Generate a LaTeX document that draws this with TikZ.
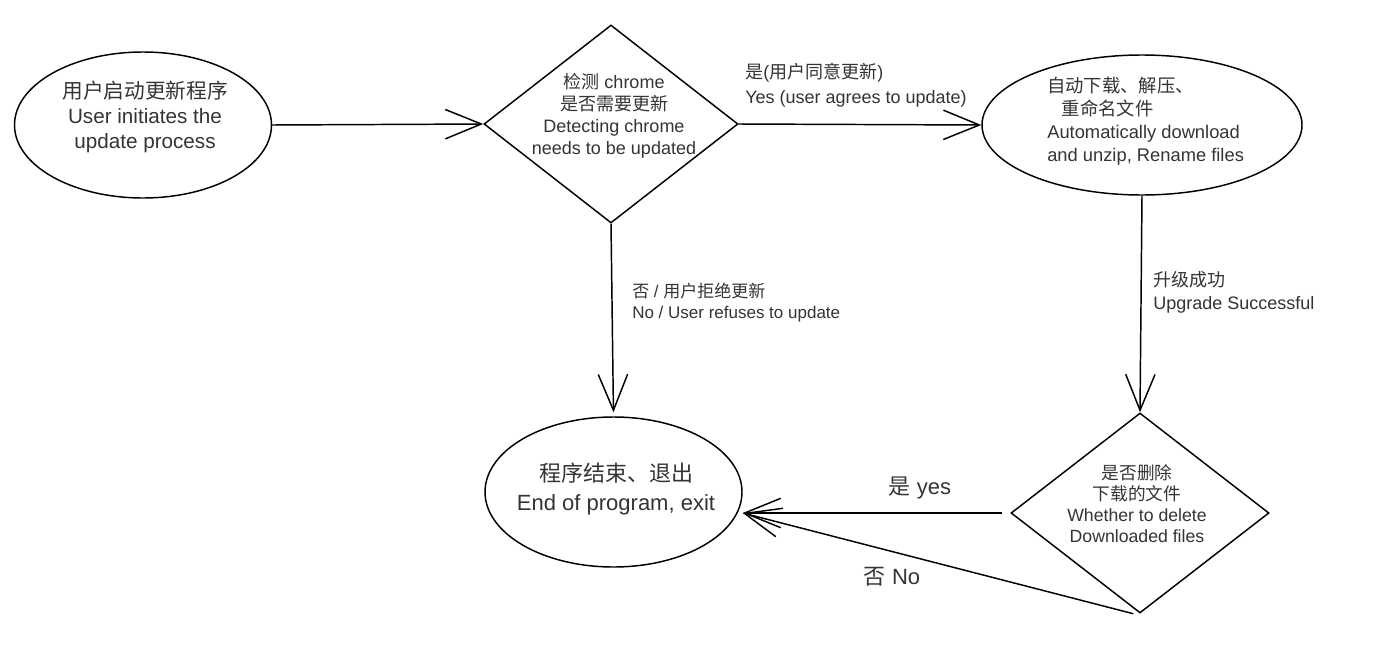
\documentclass[tikz,border=0pt]{standalone}
\usepackage{fontspec}
\setmainfont{Liberation Sans}
\newfontfamily\cjk{Noto Sans CJK SC}
\usetikzlibrary{shapes.geometric,arrows.meta,calc}
\definecolor{txt}{RGB}{52,52,52}
\begin{document}
\begin{tikzpicture}[x=0.75pt,y=-0.75pt,
  shapeline/.style={draw=black,line width=1.1pt,inner sep=0pt},
  oval/.style={shapeline,ellipse},
  decision/.style={shapeline,diamond},
  txtnode/.style={inner sep=0pt,text=txt,align=center},
  lbl/.style={inner sep=0pt,text=txt,align=left,anchor=west},
  arr/.style={draw=black,line width=1.1pt,-{Straight Barb[length=27pt,width=22pt,line width=1.1pt]}},
]
\useasboundingbox (0,0) rectangle (1378,646);
\fill[white] (0,0) rectangle (1378,646);

% shapes
\node[oval,minimum width=192.75pt,minimum height=109.5pt] (start) at (143,125) {};
\node[decision,minimum width=190.5pt,minimum height=148.5pt] (check) at (611,124) {};
\node[oval,minimum width=240pt,minimum height=105pt] (dl) at (1142,125) {};
\node[oval,minimum width=192.75pt,minimum height=112.5pt] (quit) at (613.5,492) {};
\node[decision,minimum width=193.5pt,minimum height=150pt] (del) at (1140,513) {};

% texts inside shapes
\node[txtnode,font=\fontsize{15.5}{18.5}\selectfont] (t1) at (145,117)
  {{\cjk 用户启动更新程序}\\User initiates the\\update process};
\node[txtnode,font=\fontsize{13.5}{16.5}\selectfont] (t2) at (614,116)
  {{\cjk 检测} chrome\\{\cjk 是否需要更新}\\Detecting chrome\\needs to be updated};
\node[lbl,font=\fontsize{13.75}{17.25}\selectfont] (t3) at (1047,121)
  {{\cjk 自动下载、解压、}\\\hspace*{11pt}{\cjk 重命名文件}\\Automatically download\\and unzip, Rename files};
\node[txtnode,font=\fontsize{16.5}{21.75}\selectfont] (t4) at (616,489)
  {{\cjk 程序结束、退出}\\End of program, exit};
\node[txtnode,font=\fontsize{13.25}{15.75}\selectfont] (t5) at (1137,504)
  {{\cjk 是否删除}\\{\cjk 下载的文件}\\Whether to delete\\Downloaded files};

% connectors
\coordinate (quitin) at (quit.east |- del.west);
\draw[arr] (start.east) -- (check.west);
\draw[arr] (check.east) -- (dl.west);
\draw[arr,shorten >=3pt] (check.south) -- (quit.north);
\draw[arr] (dl.south) -- (del.north);
\draw[arr] ([xshift=-6pt]del.west) -- (quitin);
\draw[arr] ([xshift=-5pt]del.south) -- (quitin);

% connector labels
\node[lbl,font=\fontsize{13.5}{18.75}\selectfont] (l1) at (745,85)
  {{\cjk 是}({\cjk 用户同意更新})\\Yes (user agrees to update)};
\node[lbl,font=\fontsize{12.75}{15.75}\selectfont] (l2) at (632,303)
  {{\cjk 否} / {\cjk 用户拒绝更新}\\No / User refuses to update};
\node[lbl,font=\fontsize{13.5}{17.25}\selectfont] (l3) at (1153,292)
  {{\cjk 升级成功}\\Upgrade Successful};
\node[txtnode,font=\fontsize{16.5}{20}\selectfont] (l4) at (920,488) {{\cjk 是} yes};
\node[txtnode,font=\fontsize{16.5}{20}\selectfont] (l5) at (892,577) {{\cjk 否} No};
\end{tikzpicture}
\end{document}
